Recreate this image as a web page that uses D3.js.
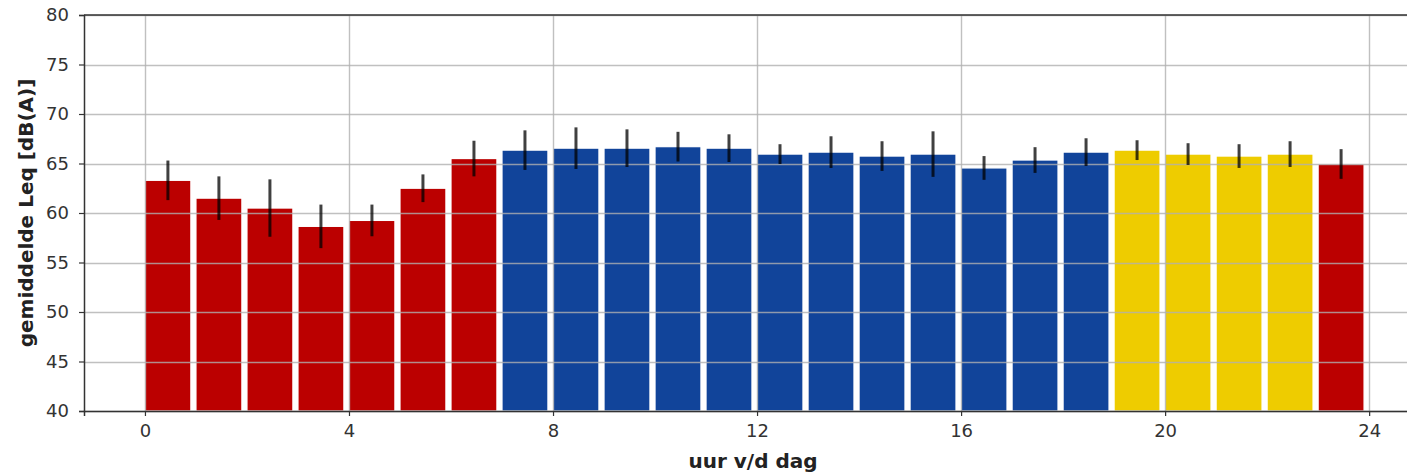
<!DOCTYPE html>
<html>
<head>
<meta charset="utf-8">
<script src="https://cdn.jsdelivr.net/npm/d3@7"></script>
<style>
  html, body { margin: 0; padding: 0; background: #fff; }
  svg { display: block; font-family: "DejaVu Sans", sans-serif; }
</style>
</head>
<body>
<svg id="chart" width="1407" height="476"></svg>
<script>
// Hour of the day (bar start), mean Leq per hour and its spread
const hours = d3.range(0, 24);
const leq = [63.3, 61.5, 60.5, 58.65, 59.25, 62.5, 65.5,
             66.35, 66.55, 66.55, 66.7, 66.55, 65.95, 66.15, 65.75, 65.95, 64.55, 65.35, 66.15,
             66.35, 65.95, 65.75, 65.95, 64.95];
const spread = [2.0, 2.2, 2.9, 2.2, 1.6, 1.4, 1.8,
                2.0, 2.1, 1.9, 1.5, 1.4, 1.0, 1.6, 1.5, 2.3, 1.2, 1.3, 1.4,
                1.0, 1.1, 1.2, 1.3, 1.5];
// Period of day: night, day, evening
const period = ["nacht","nacht","nacht","nacht","nacht","nacht","nacht",
                "dag","dag","dag","dag","dag","dag","dag","dag","dag","dag","dag","dag",
                "avond","avond","avond","avond","nacht"];
const periodColors = { nacht: "#bb0000", dag: "#11449a", avond: "#eecc00" };
const xTicks = [0, 4, 8, 12, 16, 20, 24];
const yTicks = [40, 45, 50, 55, 60, 65, 70, 75, 80];
const barWidth = 0.9;

const svg = d3.select("#chart");
const plotLeft = 84, plotTop = 15, plotBottom = 411;
const x = d3.scaleLinear().domain([-1.195, 25.095]).range([plotLeft, 1425]);
const y = d3.scaleLinear().domain([40, 80]).range([plotBottom, plotTop]);
const plotRight = x.range()[1];

// Bars
svg.append("g").selectAll("rect").data(hours).join("rect")
  .attr("x", d => x(d))
  .attr("width", x(barWidth) - x(0))
  .attr("y", (d, i) => y(leq[i]))
  .attr("height", (d, i) => y(40) - y(leq[i]))
  .attr("fill", (d, i) => periodColors[period[i]])
  .attr("stroke", "#fff")
  .attr("stroke-width", 1.2);

// Grid lines
const grid = svg.append("g").attr("stroke", "#b0b0b0").attr("stroke-opacity", 0.8).attr("stroke-width", 1.4);
grid.selectAll("line.h").data(yTicks).join("line").attr("class", "h")
  .attr("x1", plotLeft).attr("x2", plotRight)
  .attr("y1", d => Math.round(y(d)) + 0.5).attr("y2", d => Math.round(y(d)) + 0.5);
grid.selectAll("line.v").data(xTicks).join("line").attr("class", "v")
  .attr("y1", plotTop).attr("y2", plotBottom)
  .attr("x1", d => Math.round(x(d)) + 0.5).attr("x2", d => Math.round(x(d)) + 0.5);

// Error bars
svg.append("g").selectAll("line").data(hours).join("line")
  .attr("x1", d => x(d + barWidth / 2)).attr("x2", d => x(d + barWidth / 2))
  .attr("y1", (d, i) => y(leq[i] + spread[i]))
  .attr("y2", (d, i) => y(leq[i] - spread[i]))
  .attr("stroke", "#000").attr("stroke-opacity", 0.75).attr("stroke-width", 3);

// Axes
const xAxis = svg.append("g").attr("transform", `translate(0,${plotBottom})`)
  .call(d3.axisBottom(x).tickValues(xTicks).tickFormat(d3.format("d")).tickSizeOuter(0).tickSize(5).tickPadding(8));
const yAxis = svg.append("g").attr("transform", `translate(${plotLeft},0)`)
  .call(d3.axisLeft(y).tickValues(yTicks).tickFormat(d3.format("d")).tickSizeOuter(0).tickSize(5).tickPadding(10));
[xAxis, yAxis].forEach(a => {
  a.select(".domain").attr("stroke", "#333").attr("stroke-width", 1.5);
  a.selectAll(".tick line").attr("stroke", "#333").attr("stroke-width", 1.2);
  a.selectAll(".tick text").attr("fill", "#333").style("font-size", "18px").style("font-family", "DejaVu Sans");
});
// Top spine
svg.append("line").attr("x1", plotLeft).attr("x2", plotRight).attr("y1", plotTop).attr("y2", plotTop)
  .attr("stroke", "#333").attr("stroke-width", 1.5);

// Axis titles
svg.append("text").attr("x", x(12) - 4).attr("y", 468).attr("text-anchor", "middle")
  .style("font-size", "20px").style("font-weight", "bold").attr("fill", "#222")
  .text("uur v/d dag");
svg.append("text").attr("transform", `translate(33,${(plotTop + plotBottom) / 2}) rotate(-90)`)
  .attr("text-anchor", "middle")
  .style("font-size", "20px").style("font-weight", "bold").attr("fill", "#222")
  .text("gemiddelde Leq [dB(A)]");
</script>
</body>
</html>
